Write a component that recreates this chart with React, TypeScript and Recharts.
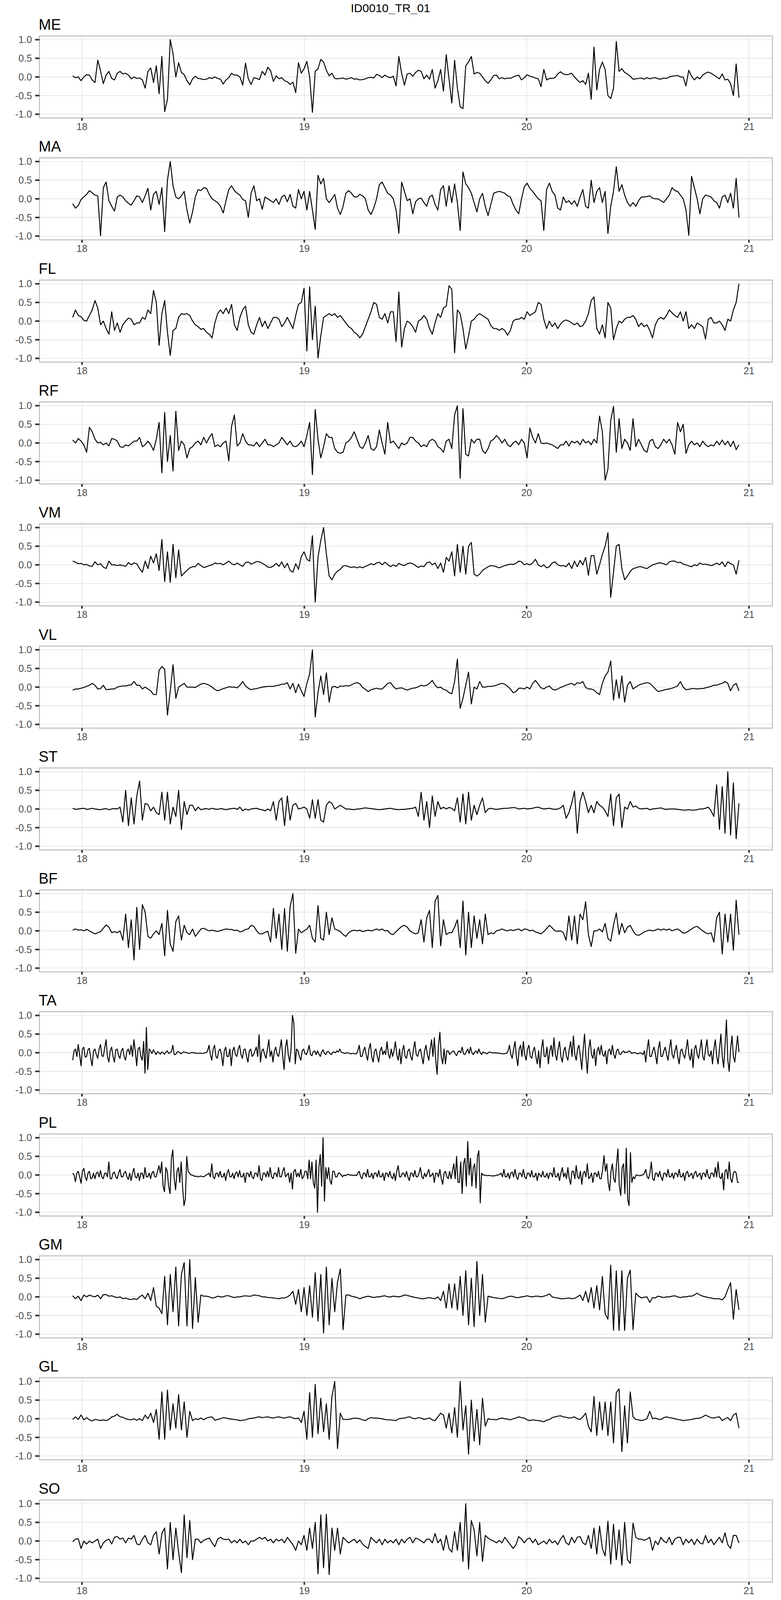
import React from "react";
import {
  LineChart,
  Line,
  XAxis,
  YAxis,
  CartesianGrid,
  ReferenceArea,
} from "recharts";

// time base: first and last sample of every channel
const T0 = 17.958;
const T_END = 20.955;

const X_TICKS = [18, 19, 20, 21];
const Y_TICKS = [-1, -0.5, 0, 0.5, 1];
const X_DOMAIN = [17.8085, 21.1055];
const Y_DOMAIN = [-1.1, 1.1];

const FONT = '"Liberation Sans", Arial, Helvetica, sans-serif';

// each row ~0.1 time units (8 samples; TA and PL 16 samples)
const ME = [
  0.03, -0.02, 0.0, -0.1, 0.0, 0.06, 0.05, -0.08,
  -0.15, 0.45, 0.16, -0.18, 0.05, 0.15, -0.04, -0.08,
  0.1, 0.15, 0.08, 0.1, 0.05, -0.05, 0.0, -0.04,
  -0.03, -0.08, -0.3, 0.15, 0.24, -0.15, 0.3, -0.45,
  0.55, -0.93, -0.6, 1.0, 0.62, 0.0, 0.38, 0.12,
  0.06, -0.1, -0.21, -0.05, 0.02, -0.04, -0.05, -0.07,
  -0.06, -0.02, -0.04, 0.0, -0.04, -0.06, -0.19, -0.08,
  -0.02, 0.1, 0.05, 0.05, 0.0, -0.22, 0.37, -0.05,
  -0.2, -0.02, -0.04, -0.07, 0.15, 0.05, 0.26, 0.17,
  -0.12, 0.03, -0.05, -0.02, -0.1, -0.13, -0.2, -0.14,
  -0.42, 0.38, 0.1, 0.22, 0.42, 0.0, -0.95, 0.15,
  0.22, 0.47, 0.4, 0.18, 0.03, 0.1, -0.04, -0.05,
  -0.04, -0.03, -0.06, -0.04, -0.02, -0.06, -0.05, -0.08,
  -0.07, -0.05, -0.02, -0.01, -0.03, 0.07, 0.04, -0.02,
  0.05, 0.0, -0.02, 0.02, -0.24, 0.55, 0.1, -0.22,
  0.08, 0.1, 0.02, 0.12, 0.18, 0.15, -0.05, 0.05,
  -0.06, 0.2, -0.3, -0.1, 0.2, -0.38, 0.6, -0.05,
  -0.7, 0.45, -0.3, -0.8, -0.85, 0.3, 0.4, 0.55,
  0.08, 0.12, 0.1, 0.0, -0.1, -0.17, -0.08, 0.04,
  0.05, -0.05, -0.02, -0.05, -0.03, -0.04, 0.0, 0.03,
  0.05, -0.08, -0.02, 0.06, 0.02, 0.0, -0.03, -0.05,
  -0.26, 0.2, -0.08, -0.04, -0.04, -0.02, 0.08, 0.14,
  0.08, 0.06, 0.07, 0.1, 0.0, -0.08, -0.15, -0.1,
  -0.2, 0.1, -0.6, 0.8, -0.35, 0.2, 0.4, 0.2,
  -0.5, -0.58, -0.3, 0.95, 0.15, 0.22, 0.12, 0.08,
  0.02, -0.06, -0.05, -0.04, -0.03, -0.06, -0.02, -0.05,
  -0.03, -0.02, -0.05, -0.06, -0.03, -0.04, 0.0, 0.02,
  0.03, 0.04, 0.0, 0.0, -0.24, 0.18, 0.02, -0.08,
  0.0, -0.05, 0.05, 0.1, 0.13, 0.1, 0.05, 0.0,
  -0.05, 0.08, -0.08, -0.06, -0.18, -0.5, 0.35, -0.55,
];

const MA = [
  -0.13, -0.25, -0.18, -0.02, 0.05, 0.12, 0.22, 0.16,
  0.1, 0.08, -0.99, 0.3, 0.45, -0.05, -0.2, -0.33,
  0.05, 0.1, 0.05, -0.05, -0.12, -0.17, -0.05, 0.08,
  0.05, -0.1, 0.08, 0.28, -0.3, 0.12, 0.2, -0.15,
  0.3, -0.88, 0.5, 1.0, 0.35, 0.05, 0.0, 0.08,
  0.2, -0.3, -0.65, -0.35, 0.05, 0.25, 0.22, 0.3,
  0.28, 0.12, 0.0, -0.05, -0.1, -0.2, -0.38, -0.05,
  0.25, 0.35, 0.22, 0.15, 0.1, -0.02, -0.05, -0.5,
  0.15, 0.35, -0.05, 0.0, -0.28, 0.05, 0.0, -0.05,
  -0.1, 0.0, -0.15, 0.05, 0.1, -0.08, 0.12, -0.2,
  -0.25, 0.25, 0.0, 0.2, -0.3, 0.2, -0.3, -0.82,
  0.63, 0.4, 0.55, 0.0, -0.1, 0.0, 0.12, -0.25,
  -0.42, -0.2, 0.15, 0.22, 0.15, 0.05, 0.05, 0.12,
  0.08, 0.0, -0.3, -0.42, -0.25, 0.0, 0.38, 0.45,
  0.3, 0.15, 0.1, 0.0, -0.3, -0.92, 0.45, 0.2,
  -0.05, 0.0, -0.4, -0.08, 0.0, 0.02, -0.1, -0.2,
  0.05, 0.1, -0.15, -0.3, 0.25, 0.35, -0.2, 0.35,
  -0.1, 0.4, -0.1, -0.85, 0.72, 0.4, 0.3, 0.15,
  -0.1, -0.35, 0.0, 0.15, -0.2, -0.45, -0.15, 0.15,
  0.18, 0.2, 0.18, 0.15, 0.08, 0.05, -0.15, -0.3,
  -0.4, 0.0, 0.32, 0.42, 0.28, 0.2, 0.1, 0.0,
  -0.05, -0.85, 0.25, 0.42, 0.2, 0.1, -0.25, -0.3,
  0.05, -0.1, -0.05, -0.15, -0.05, -0.2, 0.05, 0.25,
  -0.2, -0.25, 0.5, -0.1, 0.2, 0.3, -0.1, 0.2,
  -0.93, -0.2, 0.2, 0.86, 0.2, 0.38, 0.1, -0.1,
  -0.2, -0.1, -0.2, -0.05, 0.05, 0.05, 0.06, 0.08,
  0.02, 0.0, 0.0, -0.05, -0.1, 0.0, 0.1, 0.3,
  0.22, 0.2, 0.1, 0.0, -0.3, -0.98, 0.6, 0.3,
  0.0, -0.4, 0.0, 0.1, 0.08, 0.05, -0.05, -0.1,
  -0.25, 0.05, 0.1, -0.1, 0.15, -0.25, 0.55, -0.5,
];

const FL = [
  0.1, 0.3, 0.15, 0.12, 0.02, 0.0, 0.15, 0.3,
  0.55, 0.35, -0.1, 0.0, -0.2, -0.35, 0.25, -0.25,
  -0.05, -0.3, -0.1, 0.0, 0.08, 0.05, -0.1, -0.05,
  -0.05, 0.1, 0.05, 0.3, 0.2, 0.82, 0.5, -0.65,
  0.2, 0.55, -0.3, -0.92, -0.25, -0.2, 0.1, 0.2,
  0.18, 0.2, 0.15, 0.0, -0.1, -0.15, -0.22, -0.2,
  -0.3, -0.35, -0.45, -0.05, 0.2, 0.3, 0.2, 0.35,
  0.2, 0.45, -0.1, -0.25, 0.1, 0.3, 0.4, -0.1,
  -0.3, -0.35, -0.1, 0.1, -0.15, 0.0, -0.2, -0.05,
  0.1, 0.1, 0.05, -0.15, -0.05, 0.1, -0.05, -0.2,
  0.15, 0.45, 0.5, 0.88, -0.8, 0.92, -0.5, 0.4,
  -0.99, -0.4, 0.1, 0.15, 0.2, 0.15, 0.2, 0.1,
  0.15, 0.05, -0.05, -0.15, -0.2, -0.3, -0.35, -0.45,
  -0.35, -0.15, 0.05, 0.25, 0.5, 0.45, 0.1, 0.05,
  0.2, -0.05, 0.25, 0.25, -0.55, 0.78, -0.7, -0.2,
  0.0, -0.05, -0.15, -0.3, 0.0, 0.05, 0.15, 0.05,
  -0.2, -0.35, -0.05, 0.2, 0.1, 0.35, 0.4, 0.95,
  0.85, -0.85, 0.3, 0.2, -0.2, -0.75, -0.4, 0.0,
  0.05, 0.15, 0.2, 0.15, 0.1, 0.05, -0.12, -0.2,
  -0.2, -0.25, -0.2, -0.25, -0.38, -0.25, 0.0, 0.05,
  0.05, 0.1, 0.05, 0.25, 0.15, 0.2, 0.25, 0.5,
  0.45, 0.05, -0.2, 0.0, -0.15, -0.05, -0.2, -0.08,
  0.0, 0.03, 0.0, -0.05, -0.1, -0.05, -0.15, -0.12,
  0.0, 0.2, 0.55, 0.65, -0.2, -0.35, -0.1, -0.45,
  0.5, 0.35, -0.5, -0.2, 0.0, -0.05, 0.05, 0.1,
  0.1, 0.15, 0.05, -0.15, -0.05, -0.15, -0.1, -0.25,
  -0.45, -0.1, 0.05, 0.1, 0.05, 0.15, 0.3, 0.22,
  0.15, 0.1, 0.25, 0.0, 0.25, -0.2, -0.1, -0.2,
  -0.05, -0.1, -0.15, -0.48, 0.05, 0.1, -0.05, -0.05,
  0.0, -0.1, -0.25, 0.05, 0.0, 0.3, 0.5, 1.0,
];

const RF = [
  0.08, 0.0, 0.12, 0.05, -0.05, -0.25, 0.42, 0.3,
  0.1, 0.0, 0.02, -0.05, 0.0, -0.08, 0.12, 0.1,
  0.05, -0.1, -0.12, -0.05, -0.08, -0.02, 0.05, 0.05,
  0.15, -0.1, -0.05, 0.05, -0.05, -0.2, 0.1, 0.55,
  -0.8, 0.82, -0.5, 0.2, -0.75, 0.85, -0.2, 0.05,
  -0.05, -0.4, -0.15, -0.1, 0.0, 0.05, -0.05, 0.15,
  0.0, 0.15, 0.25, -0.1, -0.05, -0.1, 0.0, 0.05,
  -0.48, 0.45, 0.75, -0.08, 0.0, 0.25, 0.05, -0.05,
  -0.05, -0.08, 0.02, -0.1, 0.0, 0.1, -0.05, -0.05,
  -0.1, -0.05, 0.0, 0.15, 0.05, -0.05, 0.05, -0.08,
  -0.1, -0.05, 0.05, -0.1, 0.2, 0.55, -0.85, 0.9,
  0.1, -0.4, -0.1, 0.25, 0.15, 0.15, -0.15, -0.25,
  -0.28, -0.25, 0.0, 0.05, 0.15, 0.3, 0.1, -0.1,
  -0.15, 0.0, 0.2, -0.15, -0.2, -0.1, 0.35, 0.0,
  -0.3, 0.55, 0.0, 0.05, -0.05, -0.15, 0.0, -0.05,
  0.0, 0.15, 0.15, 0.05, 0.0, -0.1, -0.05, -0.1,
  0.05, 0.1, 0.05, -0.1, -0.15, -0.25, 0.05, 0.1,
  -0.15, 0.75, 1.0, -0.95, 0.92, -0.3, -0.35, 0.1,
  0.0, 0.1, 0.1, -0.2, -0.28, -0.15, 0.05, 0.1,
  0.2, 0.12, 0.0, 0.1, -0.05, -0.1, 0.0, 0.05,
  -0.05, 0.1, 0.0, -0.4, 0.4, 0.15, 0.0, 0.25,
  0.0, -0.02, 0.0, -0.03, -0.05, -0.1, -0.15, -0.05,
  -0.05, 0.05, -0.08, 0.05, 0.0, 0.05, -0.05, 0.1,
  0.0, 0.05, -0.05, 0.1, 0.0, 0.72, 0.3, -1.0,
  -0.7, 0.6, 0.98, -0.25, 0.65, -0.15, 0.1, 0.0,
  -0.2, 0.65, -0.1, 0.1, -0.05, -0.2, -0.25, 0.05,
  0.1, -0.1, -0.15, -0.05, 0.1, 0.0, 0.1, -0.05,
  -0.3, 0.55, 0.3, 0.5, -0.28, -0.05, 0.05, -0.05,
  0.0, -0.1, 0.05, -0.05, -0.1, -0.05, -0.08, 0.05,
  -0.05, 0.08, -0.05, 0.05, -0.1, 0.05, -0.18, -0.05,
];

const VM = [
  0.1, 0.07, 0.03, 0.04, 0.0, 0.01, -0.03, -0.04,
  0.08, 0.0, 0.03, -0.06, -0.1, 0.1, 0.0, 0.0,
  -0.02, 0.0, -0.02, -0.04, 0.06, 0.0, 0.05, 0.03,
  -0.1, -0.2, 0.1, -0.1, 0.23, 0.05, 0.3, -0.15,
  0.68, -0.45, 0.35, -0.47, 0.55, -0.35, 0.4, -0.3,
  -0.22, -0.15, -0.08, -0.05, -0.05, 0.04, -0.02, -0.07,
  -0.05, -0.02, 0.0, 0.05, 0.03, 0.04, 0.0, 0.05,
  0.1, 0.03, 0.0, 0.05, 0.0, -0.04, 0.06, 0.08,
  0.02, 0.05, 0.09, 0.08, 0.04, 0.0, -0.06, -0.07,
  -0.03, 0.04, -0.04, 0.08, -0.08, 0.04, -0.15, -0.2,
  0.03, -0.12, 0.22, 0.35, 0.15, 0.1, 0.78, -1.0,
  0.2, 0.65, 1.0, 0.3, -0.3, -0.4, -0.25, -0.17,
  -0.12, -0.03, -0.02, -0.05, -0.07, -0.05, -0.08, -0.05,
  -0.08, -0.04, -0.01, 0.03, 0.0, 0.05, 0.07, 0.0,
  0.07, 0.01, -0.05, 0.0, -0.04, 0.04, 0.0, -0.02,
  0.03, 0.05, 0.03, -0.02, -0.07, -0.03, -0.05, 0.05,
  0.08, 0.0, 0.05, -0.1, 0.05, -0.2, 0.2, 0.1,
  0.35, -0.3, 0.55, -0.2, 0.5, -0.25, 0.5, 0.6,
  -0.25, -0.3, -0.25, -0.15, -0.1, -0.05, -0.02, -0.03,
  -0.05, -0.08, -0.05, -0.02, 0.0, 0.02, 0.01, 0.04,
  0.1, 0.08, 0.0, 0.03, 0.0, 0.05, 0.15, 0.0,
  -0.05, 0.0, -0.08, -0.05, 0.05, 0.08, 0.0, -0.03,
  -0.02, -0.05, 0.05, -0.1, 0.1, -0.05, 0.12, 0.0,
  0.2, -0.28, 0.25, 0.25, -0.25, 0.0, 0.28, 0.5,
  0.86, -0.87, -0.2, 0.5, 0.55, -0.1, -0.4, -0.3,
  -0.18, -0.1, -0.08, -0.05, -0.05, -0.08, -0.1, -0.05,
  0.0, 0.02, 0.05, 0.05, 0.03, 0.0, 0.08, 0.1,
  0.1, 0.06, 0.07, 0.02, 0.0, -0.03, -0.05, 0.0,
  -0.02, 0.05, 0.01, 0.02, 0.0, -0.02, 0.0, 0.05,
  0.0, 0.08, -0.05, 0.08, 0.03, 0.0, -0.25, 0.12,
];

const VL = [
  -0.08, -0.05, -0.05, -0.03, -0.01, 0.02, 0.05, 0.1,
  0.05, -0.05, -0.04, 0.05, -0.07, -0.06, -0.05, -0.05,
  0.0, 0.02, 0.03, 0.03, 0.05, 0.06, 0.15, 0.05,
  0.05, -0.05, 0.0, -0.05, -0.1, -0.2, -0.2, 0.45,
  0.55, 0.48, -0.75, -0.1, 0.6, -0.3, 0.0, 0.05,
  0.1, 0.0, 0.0, 0.0, -0.01, 0.04, 0.08, 0.1,
  0.08, 0.05, 0.0, -0.06, -0.1, -0.07, -0.04, -0.02,
  0.01, 0.0, 0.0, -0.02, 0.05, 0.15, 0.03, -0.03,
  -0.07, -0.05, -0.04, -0.02, 0.0, 0.01, 0.02, 0.02,
  0.02, 0.04, 0.05, 0.08, 0.08, 0.12, -0.05, 0.1,
  -0.15, 0.08, -0.1, -0.25, 0.1, 0.35, 1.0, -0.8,
  -0.15, 0.3, -0.2, 0.38, -0.4, 0.0, 0.02, -0.02,
  0.03, 0.02, 0.04, 0.03, 0.06, 0.1, 0.12, 0.09,
  -0.01, -0.06, -0.12, -0.07, -0.05, -0.03, -0.05, -0.05,
  0.02, 0.1, 0.12, 0.02, -0.05, -0.03, -0.02, -0.05,
  -0.08, -0.05, -0.03, -0.02, 0.01, 0.05, 0.03, 0.05,
  0.1, 0.18, 0.05, -0.02, 0.0, -0.06, -0.08, -0.15,
  -0.18, 0.15, 0.75, -0.57, -0.3, 0.05, 0.4, -0.45,
  0.0, -0.05, 0.15, 0.0, 0.0, 0.02, 0.02, 0.03,
  0.05, 0.08, 0.1, 0.08, 0.02, -0.05, -0.15, -0.12,
  -0.03, -0.03, -0.05, 0.0, -0.05, 0.1, 0.18, 0.08,
  -0.02, -0.05, 0.0, 0.03, -0.05, -0.08, -0.05, -0.01,
  0.02, 0.05, 0.08, 0.1, 0.05, 0.12, 0.1, 0.15,
  -0.01, -0.05, -0.05, -0.08, -0.15, -0.2, 0.1, 0.3,
  0.4, 0.7, -0.35, 0.2, -0.3, 0.3, -0.4, 0.05,
  0.15, -0.05, 0.0, 0.05, 0.08, 0.1, 0.12, 0.1,
  0.03, -0.05, -0.12, -0.1, -0.08, -0.06, -0.05, -0.03,
  0.0, 0.03, 0.15, 0.0, -0.07, -0.06, -0.04, -0.04,
  -0.05, -0.04, -0.04, -0.02, 0.0, 0.02, 0.05, 0.05,
  0.08, 0.1, 0.15, 0.1, -0.1, 0.05, 0.1, -0.1,
];

const ST = [
  0.02, -0.01, 0.0, 0.01, 0.02, -0.01, 0.0, 0.02,
  0.0, -0.01, -0.02, 0.0, 0.01, -0.02, 0.0, 0.01,
  0.0, 0.05, -0.35, 0.5, -0.45, 0.3, -0.4, 0.35,
  0.75, -0.3, 0.15, 0.12, -0.05, 0.05, -0.1, -0.15,
  0.45, -0.3, 0.45, -0.4, 0.05, -0.2, 0.5, -0.55,
  0.2, -0.15, 0.1, 0.1, -0.05, 0.05, -0.02, 0.0,
  0.01, -0.01, 0.02, 0.0, -0.01, 0.01, 0.0, -0.02,
  0.0, 0.01, 0.02, -0.01, 0.05, -0.05, 0.0, -0.03,
  0.0, 0.01, 0.02, -0.01, -0.02, -0.05, 0.0, -0.05,
  0.2, -0.3, 0.2, 0.3, -0.45, 0.35, -0.3, 0.1,
  0.15, 0.0, 0.02, 0.05, 0.0, -0.25, 0.25, -0.25,
  0.25, -0.3, -0.35, 0.1, 0.2, 0.15, 0.0, 0.05,
  0.1, 0.05, 0.0, 0.0, -0.01, -0.02, 0.0, 0.0,
  0.02, 0.03, 0.02, 0.01, 0.0, -0.01, -0.02, -0.01,
  0.0, 0.01, 0.02, 0.0, -0.01, -0.02, -0.01, -0.01,
  0.0, 0.01, 0.02, 0.05, -0.2, 0.45, -0.3, 0.2,
  -0.5, 0.35, -0.2, 0.2, 0.0, 0.05, 0.0, 0.04,
  0.02, -0.05, 0.3, -0.35, 0.4, -0.4, 0.45, -0.3,
  0.1, -0.15, 0.1, 0.3, -0.1, 0.0, 0.02, 0.0,
  -0.01, 0.0, 0.01, 0.02, 0.02, 0.03, 0.04, 0.03,
  0.0, 0.01, 0.02, 0.0, 0.01, 0.02, 0.04, 0.05,
  0.02, 0.0, 0.01, 0.02, 0.0, -0.01, 0.0, 0.03,
  0.1, -0.25, -0.1, 0.15, 0.48, -0.65, 0.2, 0.45,
  0.2, -0.1, 0.1, -0.1, 0.2, 0.1, 0.05, -0.05,
  -0.2, 0.4, -0.45, 0.3, 0.4, -0.5, 0.05, 0.0,
  0.2, 0.05, 0.08, 0.02, 0.0, 0.01, 0.02, -0.02,
  0.0, 0.01, 0.02, 0.03, 0.0, -0.01, 0.0, 0.0,
  0.0, -0.01, -0.02, -0.03, -0.03, -0.02, -0.03, -0.03,
  -0.02, 0.0, 0.0, 0.02, 0.05, -0.05, -0.2, 0.65,
  -0.55, 0.6, -0.65, 1.0, -0.7, 0.7, -0.8, 0.15,
];

const BF = [
  0.02, 0.05, 0.02, 0.03, 0.0, 0.04, 0.0, -0.04,
  -0.08, -0.05, -0.02, 0.07, 0.16, 0.1, -0.05, -0.02,
  -0.05, 0.0, -0.25, 0.45, -0.45, 0.3, -0.78, 0.63,
  -0.5, 0.7, 0.5, -0.15, -0.2, -0.08, 0.0, -0.1,
  0.2, -0.67, 0.55, -0.35, -0.55, 0.25, 0.4, -0.25,
  0.15, -0.05, -0.1, 0.05, -0.15, -0.05, 0.05, 0.07,
  0.03, 0.0, 0.02, 0.0, -0.02, 0.01, 0.03, 0.05,
  0.04, 0.04, 0.01, 0.02, -0.03, -0.01, 0.04, 0.05,
  0.15, 0.12, 0.0, -0.08, -0.08, -0.04, -0.01, -0.3,
  0.6, -0.2, 0.45, -0.5, 0.6, -0.55, 0.65, 1.0,
  -0.6, 0.05, -0.05, 0.0, 0.05, 0.15, -0.2, -0.3,
  0.68, -0.2, -0.25, 0.5, -0.1, 0.35, 0.05, 0.02,
  -0.02, -0.1, -0.15, -0.05, 0.0, 0.02, 0.0, 0.02,
  -0.02, 0.0, 0.02, 0.0, 0.02, 0.05, 0.02, 0.05,
  0.0, 0.01, -0.08, -0.1, -0.02, 0.05, 0.12, 0.15,
  0.1, 0.0, -0.05, -0.08, -0.05, 0.3, -0.3, 0.35,
  0.55, -0.45, 0.8, 0.95, -0.4, 0.3, -0.1, -0.05,
  -0.05, 0.1, 0.3, -0.45, 0.8, -0.65, 0.5, -0.45,
  0.4, -0.2, 0.3, -0.35, 0.45, -0.1, -0.05, -0.08,
  0.0, 0.02, 0.05, 0.02, 0.0, 0.03, 0.01, 0.03,
  0.05, 0.0, 0.05, 0.04, 0.0, 0.02, -0.03, -0.05,
  -0.08, -0.02, 0.06, 0.15, 0.08, 0.0, -0.01, 0.0,
  -0.05, -0.25, 0.4, -0.25, 0.4, -0.35, 0.45, 0.3,
  0.78, -0.1, -0.42, 0.0, 0.0, 0.05, -0.03, 0.2,
  -0.2, -0.28, 0.15, 0.48, -0.1, 0.2, -0.05, 0.1,
  0.15, 0.0, -0.1, -0.12, -0.08, -0.03, 0.0, 0.02,
  0.0, 0.02, 0.05, 0.02, 0.05, 0.02, 0.05, 0.0,
  0.03, 0.05, 0.0, -0.06, -0.05, 0.0, 0.05, 0.1,
  0.12, 0.06, 0.0, -0.05, -0.08, -0.05, -0.3, 0.35,
  0.5, -0.62, 0.45, -0.3, 0.45, -0.52, 0.82, -0.1,
];

const TA = [
  -0.2, 0.05, 0.1, -0.1, 0.22, -0.05, -0.35, 0.1, 0.15, -0.12, -0.1, 0.08, 0.12, -0.15, -0.35, 0.05,
  0.1, -0.05, -0.15, 0.1, 0.22, -0.08, -0.1, 0.12, 0.35, -0.1, -0.25, 0.05, 0.15, -0.1, -0.25, 0.08,
  0.1, -0.08, -0.15, 0.05, 0.12, -0.1, -0.2, 0.05, 0.1, -0.05, 0.2, -0.1, 0.35, 0.05, -0.35, 0.1,
  0.15, -0.1, -0.2, 0.3, -0.55, 0.68, -0.45, 0.1, 0.05, -0.02, 0.08, 0.02, -0.05, 0.03, 0.0, -0.04,
  0.02, 0.0, -0.04, 0.02, 0.05, -0.02, 0.0, 0.03, 0.2, -0.05, -0.05, 0.02, 0.03, 0.0, -0.03, 0.01,
  0.02, 0.01, 0.0, -0.01, -0.02, 0.0, 0.01, -0.01, 0.0, -0.02, -0.02, -0.01, -0.01, -0.02, -0.02, 0.0,
  0.0, 0.05, 0.2, -0.05, -0.2, 0.1, 0.2, -0.1, -0.15, 0.05, 0.1, -0.05, -0.35, 0.05, 0.15, -0.1,
  -0.1, 0.1, -0.35, 0.05, 0.15, -0.05, -0.1, 0.1, 0.2, -0.05, -0.15, 0.08, 0.1, -0.1, -0.25, 0.05,
  0.1, -0.1, -0.05, 0.05, 0.15, -0.1, 0.48, -0.25, 0.05, 0.1, -0.05, -0.15, 0.1, 0.35, -0.1, 0.05,
  -0.25, 0.05, 0.15, -0.05, -0.1, 0.1, 0.35, -0.1, -0.45, 0.15, 0.35, -0.05, -0.25, 0.1, 1.0, 0.8,
  -0.3, 0.1, 0.05, -0.1, -0.2, 0.05, 0.1, -0.02, -0.05, 0.05, 0.2, -0.05, -0.08, 0.03, 0.05, -0.05,
  0.05, -0.03, -0.1, 0.02, 0.08, -0.02, -0.05, 0.03, 0.03, -0.02, -0.05, 0.02, 0.02, 0.0, 0.05, 0.02,
  0.1, 0.02, 0.0, -0.01, -0.02, 0.0, 0.0, -0.02, -0.03, -0.02, -0.02, -0.03, -0.03, 0.05, 0.2, -0.1,
  -0.1, 0.05, 0.15, -0.05, -0.2, 0.1, 0.25, -0.1, -0.25, 0.05, 0.1, -0.1, -0.25, 0.05, 0.15, -0.05,
  0.05, -0.05, 0.3, -0.05, -0.15, 0.1, -0.1, 0.05, 0.3, -0.05, -0.2, 0.1, -0.3, 0.05, 0.2, -0.1,
  -0.15, 0.05, 0.1, -0.1, -0.2, 0.1, 0.3, -0.05, -0.1, 0.05, 0.1, -0.1, -0.3, 0.05, 0.2, -0.05,
  -0.2, 0.1, 0.35, -0.1, 0.4, -0.2, -0.58, 0.2, 0.55, -0.1, -0.3, 0.1, -0.3, 0.05, 0.05, -0.05,
  0.0, 0.03, 0.05, -0.03, -0.08, 0.02, 0.05, 0.0, 0.15, -0.03, -0.05, 0.03, 0.1, -0.02, 0.15, 0.0,
  -0.05, 0.02, 0.05, -0.02, 0.1, 0.0, -0.05, 0.02, 0.0, -0.01, -0.03, 0.01, 0.02, 0.0, 0.0, -0.01,
  0.0, -0.01, -0.01, -0.02, -0.02, -0.03, -0.03, -0.02, -0.02, 0.05, 0.2, -0.05, -0.15, 0.1, 0.3, -0.1,
  -0.35, 0.1, 0.2, -0.1, 0.3, -0.05, -0.2, 0.1, 0.2, -0.1, -0.15, 0.05, 0.15, -0.1, -0.3, 0.05,
  -0.4, 0.1, 0.35, -0.1, -0.1, 0.15, -0.3, 0.05, 0.2, -0.1, 0.4, -0.05, -0.2, 0.1, 0.3, -0.1,
  -0.25, 0.05, 0.15, -0.1, -0.2, 0.1, 0.3, -0.1, 0.45, -0.05, -0.2, 0.1, 0.2, -0.1, -0.45, 0.1,
  0.5, -0.1, -0.55, 0.1, 0.35, -0.05, -0.15, 0.1, -0.35, 0.05, 0.15, -0.05, 0.2, -0.05, -0.1, 0.05,
  -0.3, 0.05, 0.1, -0.05, 0.2, -0.05, -0.15, 0.05, 0.1, -0.03, -0.05, 0.02, 0.05, 0.0, 0.02, 0.01,
  0.05, 0.02, -0.02, 0.0, 0.0, -0.01, -0.03, -0.02, 0.0, -0.02, -0.05, 0.05, -0.25, 0.1, 0.35, -0.1,
  -0.1, 0.05, 0.15, -0.05, -0.3, 0.1, 0.3, -0.1, -0.1, 0.05, 0.15, -0.05, -0.2, 0.1, 0.35, -0.05,
  -0.15, 0.05, 0.2, -0.1, -0.3, 0.05, 0.1, -0.05, -0.15, 0.1, 0.35, -0.05, -0.2, 0.1, -0.4, 0.1,
  0.2, -0.05, -0.15, 0.1, 0.35, -0.1, -0.2, 0.1, 0.35, -0.05, -0.1, 0.05, -0.3, 0.1, 0.35, -0.1,
  -0.3, 0.1, 0.5, -0.1, -0.4, 0.2, 0.88, -0.2, -0.5, 0.1, 0.45, -0.1, -0.25, 0.1, 0.45, 0.02,
];

const PL = [
  0.05, 0.0, -0.18, 0.05, 0.1, -0.05, -0.22, 0.1, 0.18, -0.05, -0.15, 0.05, 0.1, -0.1, -0.08, 0.05,
  -0.1, 0.05, 0.08, -0.05, 0.12, -0.05, -0.1, 0.05, 0.05, -0.05, 0.35, -0.1, -0.1, 0.05, 0.08, -0.05,
  -0.1, 0.05, 0.15, -0.05, -0.05, 0.05, 0.1, -0.05, -0.12, 0.05, -0.15, 0.05, 0.18, -0.05, -0.08, 0.05,
  -0.15, 0.05, 0.05, -0.1, 0.2, -0.05, -0.05, 0.05, -0.1, 0.05, 0.1, -0.05, -0.05, 0.1, 0.25, 0.05,
  0.35, -0.3, -0.45, 0.2, 0.1, -0.3, -0.5, 0.45, 0.67, -0.1, -0.4, 0.1, 0.2, -0.2, 0.35, -0.3,
  -0.82, -0.65, 0.5, 0.1, 0.05, 0.0, 0.0, -0.02, -0.04, -0.03, -0.05, -0.04, -0.03, -0.04, -0.05, -0.03,
  0.0, 0.02, 0.05, -0.05, 0.3, -0.05, -0.1, 0.05, 0.05, -0.05, 0.1, -0.05, -0.05, 0.05, -0.15, 0.05,
  0.15, -0.05, -0.05, 0.05, -0.1, 0.05, 0.08, -0.05, 0.12, -0.05, -0.05, 0.05, -0.2, 0.05, 0.05, -0.05,
  0.1, -0.05, -0.1, 0.05, 0.05, -0.05, 0.25, -0.1, -0.15, 0.05, 0.05, -0.05, 0.1, -0.05, 0.2, -0.05,
  -0.1, 0.05, 0.05, -0.05, 0.2, -0.05, -0.05, 0.1, 0.2, -0.05, 0.0, 0.05, -0.2, 0.05, -0.38, 0.1,
  0.15, -0.05, 0.05, -0.05, 0.15, -0.1, -0.05, 0.1, 0.1, -0.1, 0.4, -0.1, 0.35, -0.2, -0.35, 0.4,
  -1.0, 0.2, 0.55, -0.3, 1.0, -0.7, 0.2, -0.1, 0.2, -0.15, -0.25, 0.1, 0.1, -0.05, -0.05, 0.05,
  0.05, 0.0, -0.05, 0.0, -0.02, 0.0, 0.02, 0.0, 0.0, -0.01, -0.01, 0.0, -0.02, 0.05, 0.1, -0.05,
  -0.1, 0.05, 0.05, -0.05, 0.15, -0.05, -0.05, 0.05, -0.1, 0.05, 0.05, -0.05, 0.12, -0.05, -0.05, 0.05,
  -0.15, 0.05, 0.05, -0.05, 0.1, -0.05, -0.1, 0.05, -0.15, 0.1, 0.25, -0.05, -0.05, 0.05, 0.05, -0.05,
  0.1, -0.05, -0.15, 0.05, 0.05, -0.05, 0.12, -0.05, -0.05, 0.05, 0.2, -0.05, -0.1, 0.05, -0.05, 0.05,
  0.15, -0.05, 0.0, 0.05, -0.2, 0.05, 0.05, -0.05, 0.15, -0.1, -0.25, 0.05, 0.1, -0.05, -0.1, 0.1,
  -0.1, 0.1, 0.3, -0.1, 0.5, -0.2, -0.2, 0.35, -0.5, 0.3, 0.45, -0.3, 0.9, 0.0, 0.45, -0.3,
  0.2, 0.3, -0.35, 0.5, 0.65, -0.75, 0.05, 0.0, 0.0, -0.01, -0.02, -0.01, -0.02, -0.02, -0.03, -0.02,
  -0.02, 0.0, 0.0, 0.02, 0.05, -0.05, 0.15, -0.05, -0.05, 0.05, -0.1, 0.05, 0.08, -0.05, 0.15, -0.05,
  -0.12, 0.05, 0.05, -0.05, 0.15, -0.05, -0.1, 0.05, 0.05, -0.05, 0.12, -0.05, -0.05, 0.05, -0.15, 0.05,
  0.0, -0.05, 0.1, -0.05, -0.05, 0.05, -0.1, 0.05, 0.05, -0.05, 0.2, -0.05, -0.05, 0.05, -0.15, 0.05,
  0.2, -0.05, 0.05, -0.1, 0.2, -0.1, -0.25, 0.1, 0.1, -0.1, 0.25, -0.05, -0.1, 0.1, -0.25, 0.05,
  0.1, -0.05, 0.3, -0.1, -0.05, 0.05, -0.2, 0.05, 0.05, -0.05, 0.1, -0.1, -0.1, 0.15, 0.52, 0.1,
  0.3, -0.2, -0.42, 0.1, 0.3, -0.1, -0.2, 0.3, 0.7, -0.3, -0.55, 0.2, 0.3, -0.5, 0.72, -0.65,
  -0.82, 0.6, -0.2, -0.05, -0.1, 0.0, 0.0, -0.02, -0.02, 0.0, 0.0, 0.05, 0.15, -0.05, -0.1, 0.05,
  0.35, -0.1, -0.15, 0.05, 0.05, -0.05, 0.1, -0.05, -0.15, 0.05, 0.05, -0.05, 0.15, -0.05, -0.05, 0.05,
  -0.1, 0.05, 0.05, -0.05, 0.15, -0.05, -0.05, 0.05, -0.15, 0.05, 0.1, -0.05, 0.0, 0.05, -0.1, 0.05,
  0.1, -0.05, 0.0, 0.05, -0.12, 0.05, 0.05, -0.05, 0.15, -0.05, -0.1, 0.05, 0.05, -0.05, 0.2, -0.05,
  0.35, -0.05, -0.1, 0.05, -0.4, 0.1, 0.15, -0.1, 0.35, -0.1, -0.2, 0.05, 0.1, 0.05, -0.2, -0.2,
];

const GM = [
  0.03, -0.05, 0.02, -0.1, 0.05, 0.0, 0.05, 0.02,
  0.0, 0.05, -0.05, 0.06, 0.06, 0.02, 0.03, 0.0,
  -0.02, 0.0, -0.05, -0.03, -0.06, -0.07, -0.05, -0.07,
  0.0, 0.05, -0.05, 0.1, -0.1, 0.25, -0.25, -0.3,
  -0.45, 0.55, -0.75, 0.6, -0.4, 0.8, -0.78, 0.6,
  0.92, -0.78, 1.0, -0.85, 0.52, -0.68, 0.05, 0.02,
  0.02, 0.0, -0.03, -0.02, 0.02, 0.0, 0.0, 0.03,
  0.03, 0.0, -0.02, 0.0, 0.0, 0.02, 0.03, 0.02,
  0.02, 0.05, 0.04, 0.03, 0.0, 0.0, -0.02, -0.02,
  -0.03, -0.04, -0.05, -0.03, -0.03, 0.0, 0.05, 0.15,
  -0.2, 0.2, -0.4, 0.25, -0.5, 0.3, -0.55, 0.65,
  -0.65, 0.6, -0.97, 0.8, -0.75, 0.5, -0.4, 0.4,
  0.75, -0.88, 0.05, 0.05, 0.02, 0.0, -0.02, -0.05,
  -0.02, 0.0, 0.02, 0.0, -0.02, 0.0, 0.0, 0.02,
  0.03, 0.0, 0.0, 0.02, 0.01, 0.0, 0.02, 0.05,
  0.04, 0.02, 0.0, -0.02, -0.03, -0.05, -0.05, -0.03,
  -0.02, -0.04, -0.05, 0.0, -0.1, 0.15, -0.3, 0.35,
  -0.3, 0.35, -0.35, 0.55, -0.5, 0.7, -0.75, 0.5,
  -0.8, 0.95, -0.5, 0.6, -0.68, 0.02, 0.0, -0.02,
  -0.03, -0.04, -0.05, -0.03, 0.0, 0.02, 0.01, -0.02,
  -0.02, 0.0, 0.01, 0.03, 0.01, 0.0, 0.02, 0.02,
  0.0, 0.02, 0.04, 0.08, 0.0, -0.02, -0.03, -0.05,
  -0.05, -0.04, -0.03, -0.05, -0.04, 0.0, 0.05, -0.1,
  0.15, -0.15, 0.25, -0.3, 0.3, -0.35, 0.55, -0.45,
  -0.6, 0.85, -0.9, 0.7, -0.9, 0.7, -0.9, 0.5,
  0.72, -0.88, 0.1, 0.02, -0.03, -0.01, 0.0, -0.15,
  -0.02, -0.03, 0.02, 0.0, -0.02, 0.0, 0.0, 0.02,
  0.03, 0.0, -0.02, 0.0, 0.0, 0.02, 0.02, 0.05,
  0.1, 0.05, 0.02, 0.0, -0.02, -0.03, -0.05, -0.05,
  -0.05, -0.08, 0.0, 0.2, 0.38, -0.6, 0.2, -0.35,
];

const GL = [
  -0.02, 0.05, -0.02, 0.1, -0.03, 0.03, -0.03, -0.06,
  -0.02, -0.03, -0.05, -0.03, -0.05, -0.02, 0.05, 0.07,
  0.12, 0.05, 0.04, 0.0, -0.02, -0.03, 0.0, -0.04,
  0.0, -0.05, 0.1, 0.0, 0.15, -0.1, 0.25, -0.55,
  0.72, -0.55, 0.77, -0.3, 0.4, -0.25, 0.65, -0.3,
  0.45, -0.5, 0.2, -0.05, 0.0, -0.02, 0.02, -0.03,
  0.02, 0.04, 0.05, -0.04, -0.02, 0.0, 0.03, 0.02,
  0.0, -0.01, -0.02, -0.03, -0.05, -0.04, -0.03, 0.0,
  0.01, 0.02, 0.04, 0.05, 0.03, 0.04, 0.05, 0.03,
  0.02, 0.04, 0.05, 0.03, 0.02, 0.04, 0.05, 0.02,
  0.0, 0.02, -0.1, 0.2, -0.55, 0.7, -0.5, 0.92,
  -0.4, 0.55, -0.35, 0.4, -0.55, 0.6, 1.0, -0.8,
  0.15, -0.02, -0.02, -0.02, 0.0, 0.02, 0.01, 0.0,
  -0.03, -0.05, 0.0, 0.03, 0.02, 0.02, 0.01, 0.0,
  -0.02, -0.03, -0.03, -0.04, -0.05, 0.0, 0.01, 0.02,
  0.04, 0.05, 0.01, 0.0, 0.03, 0.02, -0.02, 0.0,
  0.02, -0.03, -0.05, 0.05, 0.15, 0.1, -0.25, 0.15,
  -0.38, 0.3, -0.5, 1.0, -0.3, 0.35, -0.95, 0.5,
  -0.6, 0.25, -0.7, 0.55, -0.2, 0.0, -0.02, -0.02,
  -0.03, 0.0, 0.02, 0.0, -0.01, -0.03, 0.0, 0.02,
  0.05, 0.03, 0.02, -0.03, -0.05, -0.03, -0.04, -0.05,
  -0.06, -0.08, -0.04, -0.02, 0.03, 0.05, 0.07, 0.08,
  0.05, 0.04, 0.02, 0.03, 0.05, 0.0, -0.02, 0.05,
  0.15, -0.2, -0.35, 0.6, -0.45, 0.45, -0.3, 0.45,
  -0.45, 0.45, -0.65, 0.7, 0.8, -0.88, 0.35, -0.65,
  0.72, 0.05, -0.02, -0.03, -0.05, -0.03, 0.0, 0.2,
  0.0, 0.02, -0.01, -0.02, 0.03, 0.05, 0.03, 0.02,
  0.0, -0.02, -0.03, -0.05, -0.04, -0.03, -0.02, 0.0,
  0.01, 0.02, 0.05, 0.1, 0.06, 0.03, 0.02, 0.04,
  0.05, -0.05, 0.0, 0.03, -0.05, 0.1, 0.15, -0.25,
];

const SO = [
  -0.02, 0.05, 0.06, -0.2, 0.0, -0.08, 0.0, -0.05,
  0.0, 0.05, -0.2, -0.05, 0.02, 0.05, -0.08, 0.1,
  0.12, 0.05, 0.08, -0.05, 0.08, 0.05, 0.15, -0.08,
  -0.1, 0.05, 0.15, -0.05, -0.1, 0.15, 0.25, -0.35,
  0.2, 0.35, -0.75, 0.5, -0.5, 0.35, -0.3, -0.85,
  0.7, -0.45, 0.55, -0.5, 0.05, 0.05, -0.05, 0.02,
  0.05, 0.08, -0.05, -0.15, 0.05, 0.1, 0.05, 0.04,
  0.05, -0.05, 0.02, -0.05, 0.05, -0.05, 0.0, -0.1,
  0.0, 0.0, 0.05, 0.1, 0.05, 0.1, 0.0, 0.05,
  -0.05, 0.05, 0.0, 0.05, -0.05, 0.1, 0.0, -0.1,
  -0.25, 0.0, -0.1, 0.15, -0.25, 0.35, -0.2, 0.5,
  -0.88, 0.7, -0.72, 0.72, -0.9, 0.35, -0.25, 0.35,
  -0.35, 0.1, 0.02, -0.05, 0.0, 0.05, -0.05, 0.03,
  -0.08, -0.15, -0.2, 0.1, 0.02, -0.05, 0.05, -0.1,
  0.05, -0.05, 0.02, -0.05, 0.05, -0.1, 0.05, -0.05,
  0.05, 0.1, -0.05, 0.08, 0.05, 0.0, -0.05, 0.05,
  0.05, -0.05, 0.2, -0.05, 0.05, -0.25, 0.15, -0.2,
  -0.3, 0.25, -0.25, 0.5, -0.55, 1.0, -0.75, 0.55,
  0.3, -0.4, 0.5, -0.55, 0.15, 0.08, 0.03, 0.0,
  -0.05, 0.02, -0.05, 0.1, 0.0, -0.1, -0.2, -0.1,
  0.12, 0.05, -0.05, 0.05, 0.08, -0.05, 0.05, -0.1,
  -0.05, 0.0, -0.08, 0.05, -0.05, 0.0, -0.1, 0.05,
  0.15, -0.05, -0.1, 0.1, -0.05, 0.1, 0.12, -0.05,
  -0.1, 0.15, -0.2, 0.35, -0.35, 0.4, -0.2, -0.4,
  0.53, -0.62, 0.45, -0.5, 0.3, -0.65, 0.5, -0.5,
  -0.6, 0.48, 0.1, 0.05, 0.05, 0.02, 0.05, 0.1,
  -0.25, 0.0, -0.1, 0.1, 0.0, -0.05, 0.1, -0.1,
  0.05, 0.1, 0.1, -0.1, 0.05, -0.05, 0.05, -0.1,
  0.05, -0.05, -0.08, 0.15, -0.05, 0.05, -0.1, 0.0,
  0.1, -0.05, 0.22, -0.1, -0.2, 0.15, 0.15, -0.05,
];

const CHANNELS = [
  { name: "ME", values: ME },
  { name: "MA", values: MA },
  { name: "FL", values: FL },
  { name: "RF", values: RF },
  { name: "VM", values: VM },
  { name: "VL", values: VL },
  { name: "ST", values: ST },
  { name: "BF", values: BF },
  { name: "TA", values: TA },
  { name: "PL", values: PL },
  { name: "GM", values: GM },
  { name: "GL", values: GL },
  { name: "SO", values: SO },
];

const TITLE = "ID0010_TR_01";

// the browser only shows 4096px of height, so the 13 stacked panels are
// squeezed vertically to fit; horizontal layout follows the reference
const PAGE_W = 2000;
const PAGE_H = 4096;
const TITLE_H = 36;
const BLOCK_H = (PAGE_H - TITLE_H) / 13;
const PLOT_TOP = 56;
const PLOT_H = 210;
const X_AXIS_H = 40;

const tickStyle = { fill: "#4d4d4d", fontSize: 25, fontFamily: FONT };
const tickLineStyle = { stroke: "#333333", strokeWidth: 4 };

function Panel({ label, values, top }) {
  const dt = (T_END - T0) / (values.length - 1);
  const data = values.map((v, i) => ({ t: T0 + i * dt, v }));
  const h = Math.floor(BLOCK_H);
  return (
    <div style={{ position: "absolute", left: 0, top, width: PAGE_W, height: h }}>
      <LineChart
        width={PAGE_W}
        height={h}
        data={data}
        margin={{ top: PLOT_TOP, right: 22, bottom: h - PLOT_TOP - PLOT_H - X_AXIS_H, left: 0 }}
      >
        <CartesianGrid stroke="#dedede" strokeWidth={1.3} />
        <XAxis
          dataKey="t"
          type="number"
          domain={X_DOMAIN}
          ticks={X_TICKS}
          interval={0}
          allowDataOverflow
          axisLine={false}
          tickLine={tickLineStyle}
          tickSize={7}
          tickMargin={6}
          tick={tickStyle}
          height={X_AXIS_H}
        />
        <YAxis
          type="number"
          domain={Y_DOMAIN}
          ticks={Y_TICKS}
          interval={0}
          allowDataOverflow
          axisLine={false}
          tickLine={tickLineStyle}
          tickSize={11}
          tickMargin={8}
          tick={tickStyle}
          tickFormatter={(v) => v.toFixed(1)}
          width={101}
        />
        <Line
          type="linear"
          dataKey="v"
          stroke="#000000"
          strokeWidth={2.4}
          strokeLinejoin="round"
          dot={false}
          isAnimationActive={false}
        />
        <ReferenceArea
          x1={X_DOMAIN[0]}
          x2={X_DOMAIN[1]}
          y1={Y_DOMAIN[0]}
          y2={Y_DOMAIN[1]}
          fill="none"
          fillOpacity={0}
          stroke="#bbbbbb"
          strokeWidth={2.5}
          ifOverflow="visible"
        />
      </LineChart>
      <svg
        width={400}
        height={PLOT_TOP}
        style={{ position: "absolute", left: 0, top: 0, pointerEvents: "none" }}
      >
        <text x={99} y={40} fontSize={38} fill="#000000" fontFamily={FONT}>
          {label}
        </text>
      </svg>
    </div>
  );
}

export default function App() {
  return (
    <div
      style={{
        position: "relative",
        margin: -8,
        width: PAGE_W,
        height: PAGE_H,
        background: "#ffffff",
        overflow: "hidden",
      }}
    >
      <svg width={PAGE_W} height={TITLE_H} style={{ position: "absolute", left: 0, top: 0 }}>
        <text x={1000} y={31} textAnchor="middle" fontSize={30} fill="#000000" fontFamily={FONT}>
          {TITLE}
        </text>
      </svg>
      {CHANNELS.map((c, i) => (
        <Panel key={c.name} label={c.name} values={c.values} top={TITLE_H + i * BLOCK_H} />
      ))}
    </div>
  );
}
